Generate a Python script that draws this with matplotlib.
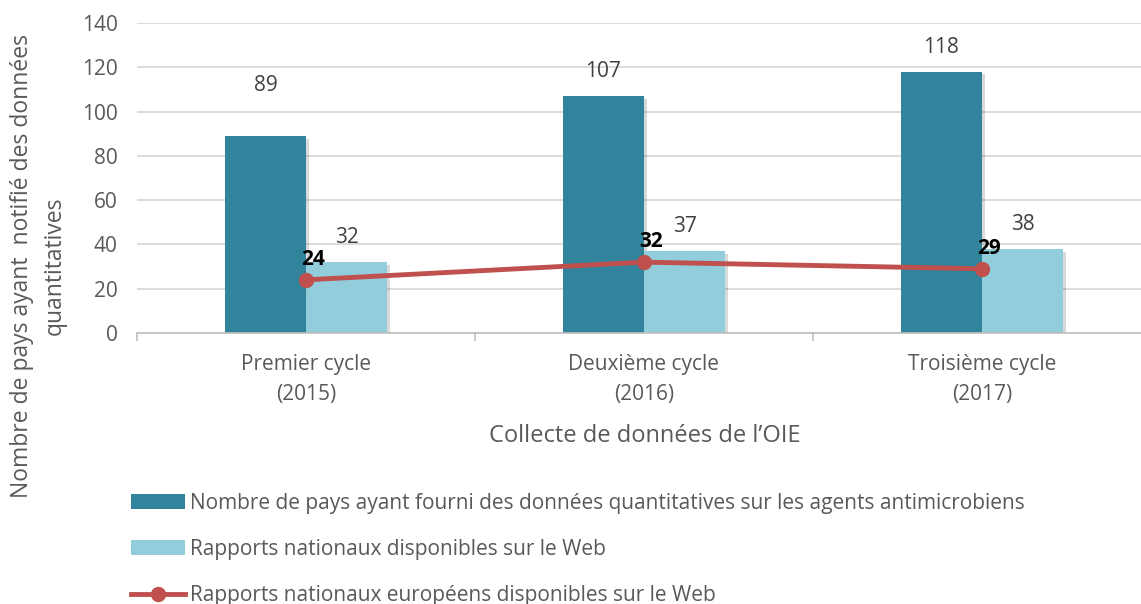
import matplotlib
matplotlib.use("Agg")
import matplotlib.pyplot as plt
import matplotlib.patheffects as pe
from matplotlib.lines import Line2D
from matplotlib.patches import Patch
import numpy as np

plt.rcParams["font.family"] = ["Open Sans", "DejaVu Sans"]

cycles = ["Premier cycle\n(2015)", "Deuxième cycle\n(2016)", "Troisième cycle\n(2017)"]
pays_quantitatifs = [89, 107, 118]
rapports_web = [32, 37, 38]
rapports_europeens = [24, 32, 29]

labels = [
    "Nombre de pays ayant fourni des données quantitatives sur les agents antimicrobiens",
    "Rapports nationaux disponibles sur le Web",
    "Rapports nationaux européens disponibles sur le Web",
]

DARK = "#31849B"
LIGHT = "#92CDDC"
RED = "#C0504D"
TXT = "#595959"
FS = 15

fig = plt.figure(figsize=(11.41, 6.04), dpi=100)
ax = fig.add_axes([137 / 1141, 1 - 333 / 604, 1 - 137 / 1141, 310 / 604])

x = np.arange(len(cycles))
w = 0.24
shadow = [pe.SimplePatchShadow(offset=(2, -2), shadow_rgbFace="#000000", alpha=0.15), pe.Normal()]
b1 = ax.bar(x - w / 2, pays_quantitatifs, w, color=DARK, zorder=2, path_effects=shadow)
b2 = ax.bar(x + w / 2, rapports_web, w, color=LIGHT, zorder=2, path_effects=shadow)
ax.plot(x, rapports_europeens, color=RED, lw=3.5, marker="o", ms=10, zorder=4)

for i, (r, v) in enumerate(zip(b1, pays_quantitatifs)):
    off = 29 if i == 0 else 10
    ax.annotate(str(v), (r.get_x() + r.get_width() / 2, v), xytext=(0, off),
                textcoords="offset points", ha="center", va="bottom", fontsize=FS, color="#404040")
for r, v in zip(b2, rapports_web):
    ax.annotate(str(v), (r.get_x() + r.get_width() / 2, v), xytext=(0, 10),
                textcoords="offset points", ha="center", va="bottom", fontsize=FS, color="#404040")
for xi, v in zip(x, rapports_europeens):
    ax.annotate(str(v), (xi, v), xytext=(5, 7), textcoords="offset points",
                ha="center", va="bottom", fontsize=FS, fontweight="bold", color="black")

ax.set_ylim(0, 140)
ax.set_yticks(range(0, 141, 20))
ax.set_xlim(-0.5, -0.5 + (1141 - 137) / 338)
ax.set_xticks(x)
ax.set_xticklabels(cycles, fontsize=FS, color=TXT, linespacing=1.6)
ax.set_xticks([-0.5, 0.5, 1.5], minor=True)
ax.tick_params(axis="x", which="major", length=0, pad=15)
ax.tick_params(axis="x", which="minor", length=6, color="#BFBFBF", width=1.2)
ax.tick_params(axis="y", length=0, labelsize=FS, labelcolor=TXT, pad=14)
ax.yaxis.grid(True, color="#D9D9D9", lw=1.3, zorder=0)
ax.set_axisbelow(True)
for s in ("top", "right", "left"):
    ax.spines[s].set_visible(False)
ax.spines["bottom"].set_color("#BFBFBF")
ax.spines["bottom"].set_linewidth(1.2)

fig.text(645 / 1141, 1 - 436 / 604, "Collecte de données de l\u2019OIE", ha="center", va="center",
         fontsize=17, color=TXT)
fig.text(22 / 1141, 1 - 266 / 604, "Nombre de pays ayant  notifié des données", rotation=90,
         ha="center", va="center", fontsize=16.5, color=TXT)
fig.text(55 / 1141, 1 - 266 / 604, "quantitatives", rotation=90,
         ha="center", va="center", fontsize=16.5, color=TXT)

handles = [
    Patch(facecolor=DARK),
    Patch(facecolor=LIGHT),
    Line2D([], [], color=RED, lw=3.5, marker="o", ms=10),
]
leg = fig.legend(handles, labels, loc="upper left", bbox_to_anchor=(131 / 1141, 1 - 493 / 604),
                 frameon=False, fontsize=FS, labelcolor=TXT, handlelength=2.6, handleheight=0.7,
                 handletextpad=0.25, labelspacing=1.2, borderaxespad=0, borderpad=0)

fig.savefig("out.png", dpi=100)
